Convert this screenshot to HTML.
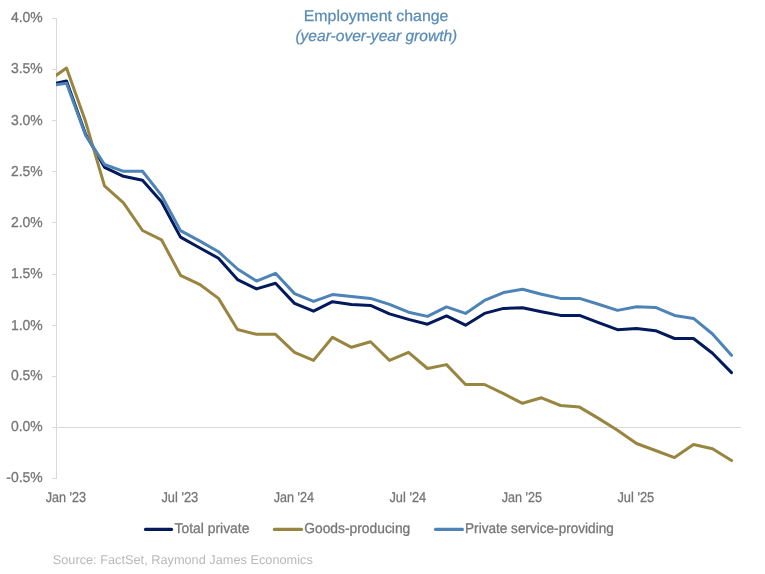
<!DOCTYPE html>
<html lang="en"><head><meta charset="utf-8"><title>Employment change</title>
<style>html,body{margin:0;padding:0;background:#fff}svg{display:block}text{font-family:"Liberation Sans",sans-serif;text-rendering:geometricPrecision}</style></head><body>
<svg width="765" height="574" viewBox="0 0 765 574">
<rect width="765" height="574" fill="#fff"/>
<g stroke="#d9d9d9" stroke-width="1" fill="none" shape-rendering="crispEdges">
<line x1="56.5" y1="18" x2="56.5" y2="479"/>
<line x1="56" y1="427.5" x2="740.5" y2="427.5"/>
<line x1="52" y1="18.5" x2="57" y2="18.5"/>
<line x1="52" y1="69.5" x2="57" y2="69.5"/>
<line x1="52" y1="120.5" x2="57" y2="120.5"/>
<line x1="52" y1="171.5" x2="57" y2="171.5"/>
<line x1="52" y1="222.5" x2="57" y2="222.5"/>
<line x1="52" y1="274.5" x2="57" y2="274.5"/>
<line x1="52" y1="325.5" x2="57" y2="325.5"/>
<line x1="52" y1="376.5" x2="57" y2="376.5"/>
<line x1="52" y1="427.5" x2="57" y2="427.5"/>
<line x1="52" y1="478.5" x2="57" y2="478.5"/>
</g>
<g fill="#767676" stroke="#767676" stroke-width="0.3" font-size="14.3">
<text transform="translate(42.70,21.90) scale(0.9750,1)" text-anchor="end">4.0%</text>
<text transform="translate(42.70,73.40) scale(0.9750,1)" text-anchor="end">3.5%</text>
<text transform="translate(42.70,124.95) scale(0.9750,1)" text-anchor="end">3.0%</text>
<text transform="translate(42.70,176.05) scale(0.9750,1)" text-anchor="end">2.5%</text>
<text transform="translate(42.70,226.95) scale(0.9750,1)" text-anchor="end">2.0%</text>
<text transform="translate(42.70,278.25) scale(0.9750,1)" text-anchor="end">1.5%</text>
<text transform="translate(42.70,329.50) scale(0.9750,1)" text-anchor="end">1.0%</text>
<text transform="translate(42.70,379.60) scale(0.9750,1)" text-anchor="end">0.5%</text>
<text transform="translate(42.70,430.70) scale(0.9750,1)" text-anchor="end">0.0%</text>
<text transform="translate(42.70,482.15) scale(0.9750,1)" text-anchor="end">-0.5%</text>
</g>
<g fill="#767676" stroke="#767676" stroke-width="0.3" font-size="14.3">
<text transform="translate(65.80,501.90) scale(0.8823,1)" text-anchor="middle">Jan '23</text>
<text transform="translate(179.80,501.90) scale(0.8976,1)" text-anchor="middle">Jul '23</text>
<text transform="translate(293.80,501.90) scale(0.8823,1)" text-anchor="middle">Jan '24</text>
<text transform="translate(407.80,501.90) scale(0.8976,1)" text-anchor="middle">Jul '24</text>
<text transform="translate(521.80,501.90) scale(0.8823,1)" text-anchor="middle">Jan '25</text>
<text transform="translate(635.80,501.90) scale(0.8976,1)" text-anchor="middle">Jul '25</text>
</g>
<g fill="#598bb7" stroke="#598bb7" stroke-width="0.25" font-size="15.55">
<text transform="translate(376.05,20.75) scale(1.0200,1)" text-anchor="middle">Employment change</text>
<text transform="translate(376.35,41.00) scale(1.0000,1)" text-anchor="middle" font-style="italic">(year-over-year growth)</text>
</g>
<clipPath id="c"><rect x="56" y="0" width="700" height="574"/></clipPath>
<g fill="none" stroke-width="3" stroke-linejoin="round" stroke-linecap="round" clip-path="url(#c)">
<path stroke="#021a5c" d="M56.0,83.3 L66.5,80.9 L85.5,134.0 L104.5,167.3 L123.5,176.3 L142.5,180.3 L161.5,201.7 L180.5,237.1 L199.5,247.7 L218.5,258.2 L237.5,279.6 L256.5,288.9 L275.5,283.3 L294.5,303.4 L313.5,311.2 L332.5,301.7 L351.5,304.4 L370.5,305.4 L389.5,313.9 L408.5,319.4 L427.5,324.2 L446.5,315.9 L465.5,325.2 L484.5,313.4 L503.5,308.4 L522.5,307.7 L541.5,311.7 L560.5,315.4 L579.5,315.4 L598.5,322.7 L617.5,329.7 L636.5,328.4 L655.5,330.7 L674.5,338.5 L693.5,338.5 L712.5,353.3 L731.5,372.6"/>
<path stroke="#98853f" d="M56.0,75.4 L66.5,68.1 L85.5,121.3 L104.5,185.8 L123.5,202.9 L142.5,230.5 L161.5,239.8 L180.5,275.3 L199.5,284.3 L218.5,298.4 L237.5,329.5 L256.5,334.3 L275.5,334.3 L294.5,352.3 L313.5,360.4 L332.5,337.3 L351.5,347.3 L370.5,341.8 L389.5,360.4 L408.5,352.3 L427.5,368.5 L446.5,364.6 L465.5,384.5 L484.5,384.5 L503.5,393.7 L522.5,403.3 L541.5,397.8 L560.5,405.5 L579.5,407.1 L598.5,418.4 L617.5,430.2 L636.5,443.5 L655.5,450.5 L674.5,457.6 L693.5,444.5 L712.5,448.8 L731.5,460.6"/>
<path stroke="#4d83b7" d="M56.0,84.8 L66.5,83.3 L85.5,135.1 L104.5,164.5 L123.5,171.3 L142.5,171.3 L161.5,195.4 L180.5,230.6 L199.5,240.9 L218.5,251.7 L237.5,269.0 L256.5,281.1 L275.5,273.3 L294.5,293.6 L313.5,301.4 L332.5,294.6 L351.5,296.4 L370.5,298.4 L389.5,304.4 L408.5,312.2 L427.5,316.4 L446.5,306.9 L465.5,313.4 L484.5,300.4 L503.5,292.6 L522.5,289.3 L541.5,294.3 L560.5,298.4 L579.5,298.4 L598.5,304.3 L617.5,310.4 L636.5,306.8 L655.5,307.4 L674.5,315.4 L693.5,318.4 L712.5,334.0 L731.5,355.3"/>
</g>
<g fill="none" stroke-width="3.2" stroke-linecap="round">
<line x1="145.5" y1="529.4" x2="171.5" y2="529.4" stroke="#021a5c"/>
<line x1="274.4" y1="529.4" x2="301.5" y2="529.4" stroke="#98853f"/>
<line x1="435.5" y1="529.4" x2="462.4" y2="529.4" stroke="#4d83b7"/>
</g>
<g fill="#767676" stroke="#767676" stroke-width="0.3" font-size="14.3">
<text transform="translate(212.00,532.80) scale(0.9700,1)" text-anchor="middle">Total private</text>
<text transform="translate(357.25,532.80) scale(0.9670,1)" text-anchor="middle">Goods-producing</text>
<text transform="translate(539.40,532.80) scale(0.9500,1)" text-anchor="middle">Private service-providing</text>
</g>
<g fill="#b9b9b9" font-size="12.7">
<text transform="translate(182.75,563.60) scale(1.0050,1)" text-anchor="middle">Source: FactSet, Raymond James Economics</text>
</g>
</svg></body></html>
